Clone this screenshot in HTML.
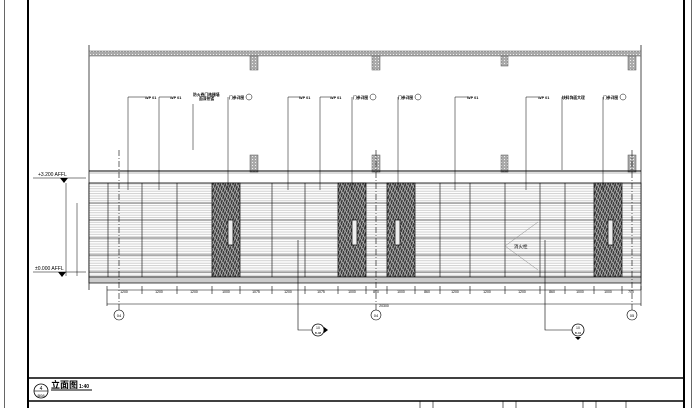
<!DOCTYPE html>
<html><head><meta charset="utf-8"><style>
html,body{margin:0;padding:0;background:#fff}
svg{display:block}
text{font-family:"Liberation Sans","Noto Sans CJK SC",sans-serif}
</style></head><body>
<svg width="700" height="408" viewBox="0 0 700 408" xmlns="http://www.w3.org/2000/svg">
<defs>
<pattern id="hl" width="4" height="2.4" patternUnits="userSpaceOnUse">
<rect width="4" height="2.4" fill="#fff"/><rect y="1.2" width="4" height="0.8" fill="#c4c4c4"/>
</pattern>
<pattern id="dk" width="5" height="7" patternUnits="userSpaceOnUse">
<rect width="5" height="7" fill="#3a3a3a"/><path d="M0 7 L2.5 0 M2.5 7 L5 0 M0 0 L5 7" stroke="#bbb" stroke-width="0.7"/>
</pattern>
<pattern id="gr" width="3" height="3" patternUnits="userSpaceOnUse">
<rect width="3" height="3" fill="#aaa"/><rect width="1" height="1" fill="#eee"/>
</pattern>
</defs>
<line x1="4.5" y1="0" x2="4.5" y2="408" stroke="#666" stroke-width="1"/>
<line x1="28" y1="0" x2="28" y2="408" stroke="#000" stroke-width="2"/>
<line x1="684" y1="0" x2="684" y2="408" stroke="#000" stroke-width="2"/>
<line x1="691.5" y1="0" x2="691.5" y2="408" stroke="#666" stroke-width="1"/>
<line x1="28" y1="378" x2="684" y2="378" stroke="#000" stroke-width="1.5"/>
<line x1="28" y1="401" x2="684" y2="401" stroke="#000" stroke-width="1.5"/>
<g stroke="#000" stroke-width="0.6">
<line x1="420" y1="401" x2="420" y2="408"/><line x1="433" y1="401" x2="433" y2="408"/>
<line x1="503" y1="401" x2="503" y2="408"/><line x1="516" y1="401" x2="516" y2="408"/>
<line x1="583" y1="401" x2="583" y2="408"/><line x1="596" y1="401" x2="596" y2="408"/>
<line x1="626" y1="401" x2="626" y2="408"/>
</g>
<circle cx="41" cy="391" r="7" fill="#fff" stroke="#000" stroke-width="0.8"/>
<line x1="34" y1="391" x2="48" y2="391" stroke="#000" stroke-width="0.6"/>
<text x="41" y="390" font-size="5" text-anchor="middle">4</text>
<text x="41" y="397" font-size="4" text-anchor="middle">B08</text>
<text x="51" y="388" font-size="9" font-weight="bold">立面图</text>
<text x="79" y="388" font-size="5" font-weight="bold">1:40</text>
<line x1="51" y1="390" x2="92" y2="390" stroke="#000" stroke-width="1"/>

<line x1="89" y1="45" x2="89" y2="290" stroke="#000" stroke-width="0.7"/>
<line x1="641" y1="45" x2="641" y2="290" stroke="#000" stroke-width="0.7"/>
<rect x="89" y="51" width="552" height="5" fill="url(#gr)" stroke="#555" stroke-width="0.5"/>
<rect x="250" y="56" width="8" height="14" fill="url(#gr)" stroke="#555" stroke-width="0.5"/>
<rect x="372" y="56" width="8" height="14" fill="url(#gr)" stroke="#555" stroke-width="0.5"/>
<rect x="501" y="56" width="7" height="10" fill="url(#gr)" stroke="#555" stroke-width="0.5"/>
<rect x="628" y="56" width="8" height="14" fill="url(#gr)" stroke="#555" stroke-width="0.5"/>
<rect x="250" y="155" width="8" height="17" fill="url(#gr)" stroke="#555" stroke-width="0.5"/>
<rect x="372" y="155" width="8" height="17" fill="url(#gr)" stroke="#555" stroke-width="0.5"/>
<rect x="501" y="155" width="7" height="17" fill="url(#gr)" stroke="#555" stroke-width="0.5"/>
<rect x="628" y="155" width="8" height="17" fill="url(#gr)" stroke="#555" stroke-width="0.5"/>
<line x1="89" y1="171" x2="641" y2="171" stroke="#000" stroke-width="1"/>
<line x1="89" y1="173" x2="641" y2="173" stroke="#777" stroke-width="0.5"/>

<rect x="89" y="183" width="552" height="94" fill="url(#hl)" stroke="#000" stroke-width="0.8"/>
<g stroke="#000" stroke-width="0.6">
<line x1="89" y1="203" x2="641" y2="203"/><line x1="89" y1="220" x2="641" y2="220"/>
<line x1="89" y1="238" x2="641" y2="238"/><line x1="89" y1="255" x2="641" y2="255"/>
<line x1="89" y1="272" x2="641" y2="272"/>
<line x1="108" y1="183" x2="108" y2="277"/><line x1="142" y1="183" x2="142" y2="277"/>
<line x1="177" y1="183" x2="177" y2="277"/><line x1="272" y1="183" x2="272" y2="277"/>
<line x1="305" y1="183" x2="305" y2="277"/><line x1="440" y1="183" x2="440" y2="277"/>
<line x1="470" y1="183" x2="470" y2="277"/><line x1="505" y1="183" x2="505" y2="277"/>
<line x1="540" y1="183" x2="540" y2="277"/><line x1="565" y1="183" x2="565" y2="277"/>
</g>
<g stroke="#000" stroke-width="0.7">
<rect x="212" y="183" width="28" height="94" fill="url(#dk)"/>
<rect x="338" y="183" width="28" height="94" fill="url(#dk)"/>
<rect x="387" y="183" width="28" height="94" fill="url(#dk)"/>
<rect x="594" y="183" width="28" height="94" fill="url(#dk)"/>
<rect x="228" y="220" width="5" height="25" fill="#eee"/>
<rect x="352" y="220" width="5" height="25" fill="#eee"/>
<rect x="395" y="220" width="5" height="25" fill="#eee"/>
<rect x="608" y="220" width="5" height="25" fill="#eee"/>
</g>
<path d="M538 222 L505 246 L538 270" fill="none" stroke="#888" stroke-width="0.5"/>
<text x="514" y="248" font-size="4.5">消火栓</text>
<rect x="89" y="277" width="552" height="6" fill="#ccc" stroke="#000" stroke-width="0.7"/>

<line x1="33" y1="178" x2="86" y2="178" stroke="#000" stroke-width="0.6"/>
<text x="38" y="176" font-size="5">+3.200 AFFL</text>
<path d="M60 178 L68 178 L64 183 Z" fill="#000"/>
<line x1="33" y1="272" x2="86" y2="272" stroke="#000" stroke-width="0.6"/>
<text x="35" y="270" font-size="5">±0.000 AFFL</text>
<path d="M58 272 L66 272 L62 277 Z" fill="#000"/>
<line x1="66" y1="183" x2="66" y2="276" stroke="#000" stroke-width="0.5"/>
<line x1="77" y1="203" x2="77" y2="276" stroke="#000" stroke-width="0.5"/>

<line x1="107" y1="290" x2="641" y2="290" stroke="#000" stroke-width="0.5"/>
<line x1="107" y1="304" x2="641" y2="304" stroke="#000" stroke-width="0.5"/>
<g stroke="#000" stroke-width="0.6">
<line x1="107" y1="286" x2="107" y2="306"/><line x1="142" y1="286" x2="142" y2="294"/>
<line x1="177" y1="286" x2="177" y2="294"/><line x1="212" y1="286" x2="212" y2="294"/>
<line x1="240" y1="286" x2="240" y2="294"/><line x1="272" y1="286" x2="272" y2="294"/>
<line x1="305" y1="286" x2="305" y2="294"/><line x1="338" y1="286" x2="338" y2="294"/>
<line x1="366" y1="286" x2="366" y2="294"/><line x1="387" y1="286" x2="387" y2="294"/>
<line x1="415" y1="286" x2="415" y2="294"/><line x1="440" y1="286" x2="440" y2="294"/>
<line x1="470" y1="286" x2="470" y2="294"/><line x1="505" y1="286" x2="505" y2="294"/>
<line x1="540" y1="286" x2="540" y2="294"/><line x1="565" y1="286" x2="565" y2="294"/>
<line x1="594" y1="286" x2="594" y2="294"/><line x1="622" y1="286" x2="622" y2="294"/>
<line x1="641" y1="286" x2="641" y2="306"/>
</g>
<g font-size="3.5" text-anchor="middle" fill="#000">
<text x="124" y="293">1200</text><text x="159" y="293">1200</text><text x="194" y="293">1200</text>
<text x="226" y="293">1000</text><text x="256" y="293">1075</text><text x="288" y="293">1200</text>
<text x="321" y="293">1075</text><text x="352" y="293">1000</text><text x="376" y="293">860</text>
<text x="401" y="293">1000</text><text x="427" y="293">860</text><text x="455" y="293">1200</text>
<text x="487" y="293">1200</text><text x="522" y="293">1200</text><text x="552" y="293">860</text>
<text x="580" y="293">1000</text><text x="608" y="293">1000</text><text x="631" y="293">700</text>
<text x="384" y="307">20300</text>
</g>
<g fill="#fff" stroke="#000" stroke-width="0.6">
<line x1="119" y1="150" x2="119" y2="310" stroke-dasharray="6 2 1 2"/>
<line x1="376" y1="150" x2="376" y2="310" stroke-dasharray="6 2 1 2"/>
<line x1="632" y1="150" x2="632" y2="310" stroke-dasharray="6 2 1 2"/>
<circle cx="119" cy="315" r="5"/><circle cx="376" cy="315" r="5"/><circle cx="632" cy="315" r="5"/>
</g>
<g font-size="4" text-anchor="middle"><text x="119" y="317">04</text><text x="376" y="317">04</text><text x="632" y="317">05</text></g>
<path d="M298 240 L298 330 L313 330" fill="none" stroke="#000" stroke-width="0.6"/>
<circle cx="318" cy="330" r="6" fill="#fff" stroke="#000" stroke-width="0.8"/>
<path d="M324 327 L328 330 L324 333 Z" fill="#000"/>
<path d="M545 240 L545 330 L573 330" fill="none" stroke="#000" stroke-width="0.6"/>
<circle cx="578" cy="330" r="6" fill="#fff" stroke="#000" stroke-width="0.8"/>
<path d="M575 337 L578 340 L581 337 Z" fill="#000"/>
<text x="318" y="329" font-size="3.5" text-anchor="middle">10</text><text x="318" y="334" font-size="3" text-anchor="middle">B-08</text>
<text x="578" y="329" font-size="3.5" text-anchor="middle">10</text><text x="578" y="334" font-size="3" text-anchor="middle">B-04</text>

<g stroke="#000" stroke-width="0.5" fill="none">
<path d="M128 190 L128 97 L145 97"/><path d="M159 190 L159 97 L170 97"/>
<path d="M193 104 L193 150"/><path d="M228 190 L228 97"/>
<path d="M288 190 L288 97 L300 97"/><path d="M320 190 L320 97 L330 97"/>
<path d="M352 190 L352 97"/><path d="M398 190 L398 97"/>
<path d="M455 190 L455 97 L468 97"/><path d="M526 190 L526 97 L538 97"/>
<path d="M562 170 L562 97"/><path d="M603 190 L603 97"/>
</g>
<g font-size="3.8" font-weight="bold" fill="#000">
<text x="145" y="99">WP 01</text><text x="170" y="99">WP 01</text>
<text x="193" y="96">防火卷门格栅墙</text><text x="199" y="100">面漆热镀</text>
<text x="229" y="99">门参详图</text><text x="299" y="99">WP 01</text><text x="330" y="99">WP 01</text>
<text x="353" y="99">门参详图</text><text x="398" y="99">门参详图</text>
<text x="467" y="99">WP 01</text><text x="538" y="99">WP 01</text>
<text x="562" y="99">块料饰面大理</text><text x="603" y="99">门参详图</text>
</g>
<g fill="#fff" stroke="#000" stroke-width="0.5">
<circle cx="249" cy="97" r="3"/><circle cx="373" cy="97" r="3"/><circle cx="418" cy="97" r="3"/><circle cx="623" cy="97" r="3"/>
</g>
</svg>
</body></html>
